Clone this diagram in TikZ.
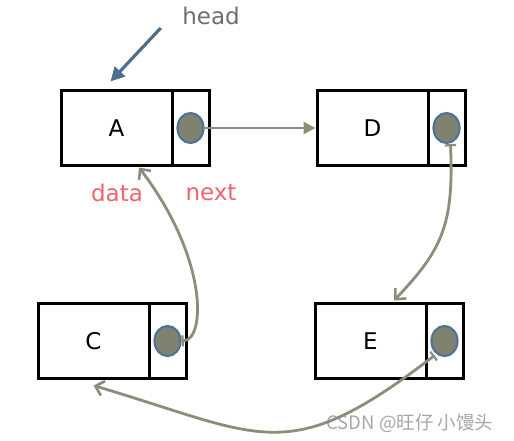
\documentclass[tikz,border=0pt]{standalone}
\usepackage{fontspec}
\setmainfont{DejaVu Sans}
\newfontfamily\cjk{Noto Sans CJK SC}
\usetikzlibrary{arrows.meta,shapes.geometric}
\definecolor{conn}{RGB}{138,142,122}
\definecolor{dot}{RGB}{128,129,110}
\definecolor{dotline}{RGB}{80,115,152}
\definecolor{headblue}{RGB}{78,110,142}
\definecolor{lbl}{RGB}{240,100,110}
\definecolor{headgray}{RGB}{110,110,110}
\tikzset{
  databox/.style={draw=black,line width=3pt,rectangle,minimum width=111pt,minimum height=75pt,inner sep=0pt,outer sep=0pt,anchor=west,font=\fontsize{23}{27}\selectfont},
  nextbox/.style={draw=black,line width=3pt,rectangle,minimum width=37pt,minimum height=75pt,inner sep=0pt,outer sep=0pt,anchor=west},
  dotnode/.style={ellipse,draw=dotline,fill=dot,line width=2.2pt,minimum width=26pt,minimum height=30pt,inner sep=0pt},
  link/.style={draw=conn,line width=2.8pt},
  curvedlink/.style={link,{Bar[width=11pt,line width=2.2pt]}-{Straight Barb[length=8pt,width=15pt,line width=2.6pt]}},
  lbltext/.style={text=lbl,font=\fontsize{23}{27}\selectfont}
}
\begin{document}
\begin{tikzpicture}[x=1pt,y=-1pt]
\useasboundingbox (0,0) rectangle (514,440);
% boxes
\node[databox] (Adata) at (61,128) {A};
\node[nextbox] (Anext) at (Adata.east) {};
\node[dotnode] (Acirc) at (Anext.center) {};
\node[databox] (Ddata) at (317,128) {D};
\node[nextbox] (Dnext) at (Ddata.east) {};
\node[dotnode] (Dcirc) at (Dnext.center) {};
\node[databox] (Cdata) at (38,341) {C};
\node[nextbox] (Cnext) at (Cdata.east) {};
\node[dotnode] (Ccirc) at (Cnext.center) {};
\node[databox] (Edata) at (315,341) {E};
\node[nextbox] (Enext) at (Edata.east) {};
\node[dotnode] (Ecirc) at (Enext.center) {};
% labels
\node[text=headgray,font=\fontsize{23}{27}\selectfont] (head) at (211,16) {head};
\node[lbltext] (datalbl) at (117,193) {data};
\node[lbltext] (nextlbl) at (211,193) {next};
\node[text=black!35,font=\cjk\fontsize{18.5}{22}\selectfont] (wm) at (410,423) {CSDN @旺仔 小馒头};
% head arrow
\draw[draw=headblue,line width=3.2pt,-{Triangle[length=14pt,width=14pt]}]
  ([xshift=-18pt,yshift=-12pt]head.west) -- ([xshift=-6pt,yshift=9pt]Adata.north);
% A -> D
\draw[link,-{Triangle[length=12pt,width=12pt]}] (Acirc.east) -- ([xshift=-1.5pt]Ddata.west);
% D -> E
\draw[curvedlink] ([xshift=4pt]Dcirc.south) .. controls (454,225) and (442,250) .. ([xshift=-32pt,yshift=3pt]Edata.north east);
% C -> A
\draw[curvedlink] (Ccirc.east) .. controls (206,340) and (208,258) .. ([xshift=-33pt,yshift=-2pt]Adata.south east);
% E -> C
\draw[curvedlink] ([yshift=-3pt]Ecirc.south west) .. controls (287,469) and (264,436) .. ([yshift=-7pt]Cdata.south);
\end{tikzpicture}
\end{document}
